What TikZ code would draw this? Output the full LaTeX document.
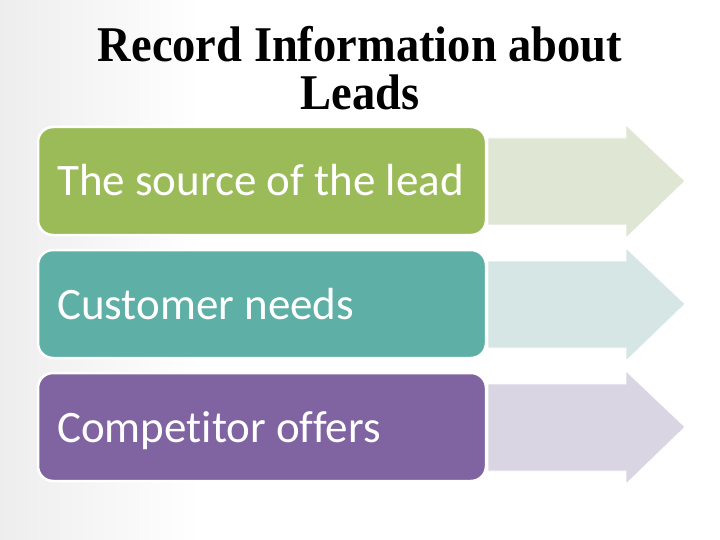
\documentclass[tikz,border=0pt]{standalone}
\usepackage{fontspec}
\setmainfont{Carlito}[Ligatures=NoCommon]
\newfontfamily\titlefont[FakeStretch=0.93]{Liberation Serif}
\usetikzlibrary{shadings}
\definecolor{cgreen}{HTML}{9BBB59}
\definecolor{cteal}{HTML}{5EB0A7}
\definecolor{cpurple}{HTML}{8064A2}
\definecolor{agreen}{HTML}{DFE6D3}
\definecolor{ateal}{HTML}{D6E6E5}
\definecolor{apurple}{HTML}{DAD5E3}
\tikzset{
  itembox/.style={draw=white, line width=2.5pt, rounded corners=15pt},
  itemtext/.style={anchor=base west, text=white, font=\fontsize{45}{54}\selectfont, inner sep=0pt},
  arrowshape/.style={draw=white, line width=0.8pt},
  titletext/.style={font=\titlefont\bfseries\fontsize{50}{48}\selectfont, anchor=base, inner sep=0pt}
}
\begin{document}
\begin{tikzpicture}[x=1pt,y=-1pt]
\useasboundingbox (0,0) rectangle (720,540);
\shade[left color=black!7, right color=white] (0,0) rectangle (200,540);
\fill[white] (200,0) rectangle (720,540);
\node[titletext] (title1) at (360,62) {Record Information about};
\node[titletext] (title2) at (360,110) {Leads};
% boxes
\foreach \i/\c/\a/\t in {0/cgreen/agreen/The source of the lead, 1/cteal/ateal/Customer needs, 2/cpurple/apurple/Competitor offers}{
  \begin{scope}[yshift=-123*\i]
  \fill[\a, arrowshape] (488,138) -- (626,138) -- (626,125) -- (685,181) -- (626,238) -- (626,225) -- (488,225) -- cycle;
  \path[fill=\c, itembox] (38,127) rectangle (486,235);
  \node[itemtext] (t\i) at (57,196) {\t};
  \end{scope}
}
\end{tikzpicture}
\end{document}
